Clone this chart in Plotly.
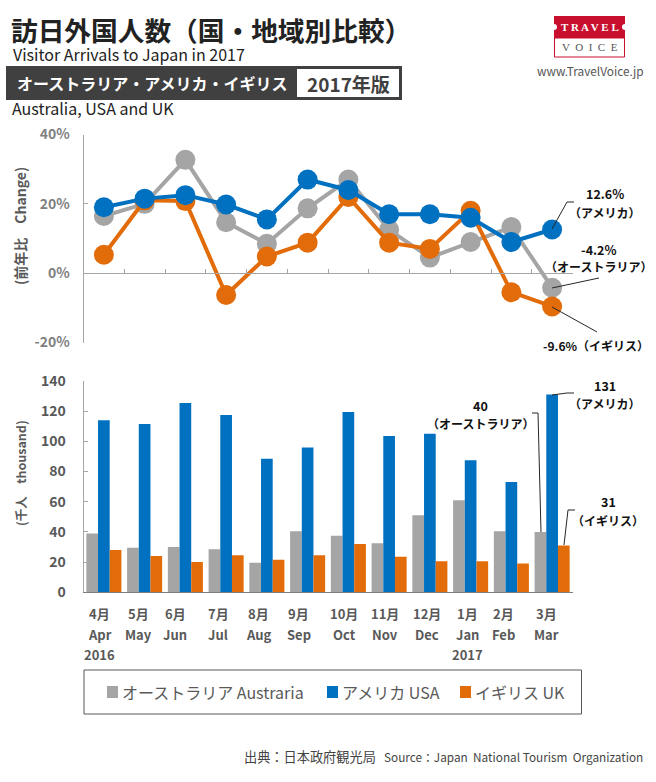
import plotly.graph_objects as go

W, H = 656, 782
months_en = ["Apr","May","Jun","Jul","Aug","Sep","Oct","Nov","Dec","Jan","Feb","Mar"]
months_ja = ["4月","5月","6月","7月","8月","9月","10月","11月","12月","1月","2月","3月"]
years = ["2016","","","","","","","","","2017","",""]
label_shift = [-4,-6,-10,-8,-8,-9,-4,-4,-3,-3,-8,-6]

chg_aus = [16.5,20,32.7,14.7,8.5,18.7,27,12.5,4.5,9,13.3,-4.2]
chg_usa = [19,21.5,22.5,19.8,15.5,27,24,17,17,16,9,12.6]
chg_uk  = [5.3,21,20.8,-6.3,4.8,8.8,22,8.8,7,18,-5.5,-9.6]

num_aus = [39,29.5,30,28.5,19.5,40.5,37.5,32.5,51,61,40.5,40]
num_usa = [114,111.5,125.5,117.5,88.5,96,119.5,103.5,105,87.5,73,131]
num_uk  = [28,24,20,24.5,21.5,24.5,32,23.5,20.5,20.5,19,31]

GRAY, BLUE, ORANGE = "#a5a5a5", "#0070c0", "#e36c0a"
JP = "Noto Sans CJK JP"
def fx(p): return p / W
def fy(p): return 1 - p / H

fig = go.Figure()
series_l = [("Aus", chg_aus, GRAY), ("USA", chg_usa, BLUE), ("UK", chg_uk, ORANGE)]
for name, vals, col in [series_l[0], series_l[2], series_l[1]]:
    fig.add_trace(go.Scatter(x=months_en, y=vals, mode="lines+markers", name=name, showlegend=False,
                             line=dict(color=col, width=4), marker=dict(color=col, size=20),
                             xaxis="x", yaxis="y", cliponaxis=False))
for name, vals, col in [("オーストラリア Austraria", num_aus, GRAY), ("アメリカ USA", num_usa, BLUE), ("イギリス UK", num_uk, ORANGE)]:
    fig.add_trace(go.Bar(x=months_en, y=vals, name=name, showlegend=False, marker=dict(color=col, line_width=0), xaxis="x2", yaxis="y2"))

shapes, ann = [], []
def text(x, y, s, size=12, color="#222222", bold=False, anchor="center", family=JP):
    if bold: s = "<b>%s</b>" % s
    ann.append(dict(text=s, x=fx(x), y=fy(y), xref="paper", yref="paper", xanchor=anchor, yanchor="middle",
                    showarrow=False, font=dict(size=size, color=color, family=family)))
def path(points, color="#262626", width=1):
    d = "M" + " L".join("%g,%g" % (fx(a), fy(b)) for a, b in points)
    shapes.append(dict(type="path", path=d, xref="paper", yref="paper", line=dict(color=color, width=width)))
def rect(x0, y0, x1, y1, fill=None, line=None, lw=1, layer="above"):
    shapes.append(dict(type="rect", xref="paper", yref="paper", x0=fx(x0), x1=fx(x1), y0=fy(y0), y1=fy(y1),
                       fillcolor=fill or "rgba(0,0,0,0)", line=dict(color=line or "rgba(0,0,0,0)", width=lw if line else 0), layer=layer))

# Header
text(9, 30, "訪日外国人数（国・地域別比較）", 26.7, "#222222", True, "left")
text(11, 54, "Visitor Arrivals to Japan in 2017", 16, "#222222", False, "left")
rect(6, 66, 402, 100, fill="#404040")
rect(297, 69, 399, 97, fill="#ffffff")
text(15, 83, "オーストラリア・アメリカ・イギリス", 16, "#ffffff", True, "left")
text(348, 83, "2017年版", 19, "#404040", True)
text(10, 108, "Australia, USA and UK", 16, "#222222", False, "left")

# Logo
rect(554, 16, 625, 38, fill="#c8102e")
rect(554.5, 38, 624.5, 57, fill="#ffffff", line="#c8102e", lw=1)
for cx in (554, 625):
    shapes.append(dict(type="circle", xref="paper", yref="paper", x0=fx(cx-3), x1=fx(cx+3), y0=fy(30), y1=fy(24),
                       fillcolor="#ffffff", line_width=0))
text(589.5, 27, "T R A V E L", 11, "#ffffff", True, family="Liberation Serif")
text(589.5, 47, "V  O  I  C  E", 11, "#555555", False, family="Liberation Serif")
text(590, 71, "www.TravelVoice.jp", 11.8, "#555555", False)

# Axis titles
for s, yc, sz in (("(前年比　Change)", 226, 14), ("(千人　thousand)", 473, 12.5)):
    ann.append(dict(text="<b>%s</b>" % s, x=fx(20), y=fy(yc), xref="paper", yref="paper", textangle=-90, showarrow=False,
                    xanchor="center", yanchor="middle", font=dict(size=sz, color="#595959", family=JP)))

# Callouts, top
text(605, 194, "12.6%", 12.5, "#111111", True)
text(604, 213, "（アメリカ）", 12, "#111111", True)
text(598, 249, "-4.2%", 12.5, "#111111", True)
text(598, 267, "（オーストラリア）", 12, "#111111", True)
text(596, 345, "-9.6%（イギリス）", 12, "#111111", True)
path([(552, 229), (567, 202), (574, 202)])
path([(552, 288), (599, 278)])
path([(552, 307), (597, 332)])
# Callouts, bottom
text(605, 385, "131", 12.5, "#111111", True)
text(604, 403, "（アメリカ）", 12, "#111111", True)
text(480, 405, "40", 12.5, "#111111", True)
text(480, 423, "（オーストラリア）", 12, "#111111", True)
text(608, 502, "31", 12.5, "#111111", True)
text(608, 520, "（イギリス）", 12, "#111111", True)
path([(552, 395), (567, 393), (574, 393)])
path([(541, 532), (538, 413), (532, 413)])
path([(564, 545), (568, 510), (575, 510)])

# Month labels anchored on the category axis
for m, j, yr, dx in zip(months_en, months_ja, years, label_shift):
    for s, yy in ((j, 613), (m, 634), (yr, 654)):
        if s:
            ann.append(dict(text="<b>%s</b>" % s, x=m, xref="x2", y=fy(yy), yref="paper", xshift=dx, showarrow=False,
                            xanchor="center", yanchor="middle", font=dict(size=13, color="#595959", family=JP)))

# Legend box, keys, source
rect(84, 670, 581.5, 714, line="#595959", lw=1)
for x0, col, s in ((107, GRAY, "オーストラリア Austraria"), (327, BLUE, "アメリカ USA"), (460, ORANGE, "イギリス UK")):
    rect(x0, 686, x0 + 11, 698, fill=col)
    text(x0 + 13, 692, s, 16, "#595959", False, "left")
text(242, 756, "出典：日本政府観光局", 13.2, "#444444", False, "left")
text(645, 756, "Source：Japan  National Tourism  Organization", 11.8, "#444444", False, "right")

axis_gray = dict(ticks="inside", ticklen=4, tickwidth=1, tickcolor="#a6a6a6", showline=True, linecolor="#a6a6a6", linewidth=1,
                 showgrid=False, zeroline=False, automargin=False)
fig.update_layout(
    width=W, height=H, margin=dict(l=0, r=0, t=0, b=0, autoexpand=False), paper_bgcolor="#ffffff", plot_bgcolor="#ffffff",
    font=dict(family=JP), barmode="group", bargap=0.14, bargroupgap=0, showlegend=False,
    shapes=shapes, annotations=ann,
    xaxis=dict(domain=[fx(83.5), fx(572.5)], anchor="free", position=fy(273), range=[-0.5, 11.5], categoryorder="array", categoryarray=months_en,
               showticklabels=False, tickson="boundaries", **axis_gray),
    yaxis=dict(domain=[fy(342.5), fy(134.5)], range=[-20, 40], tickvals=[-20, 0, 20, 40], ticktext=["-20%", "0%", "20%", "40%"],
               tickfont=dict(size=14, color="#7f7f7f", family=JP, weight="bold"), anchor="x", ticklabelstandoff=10, **axis_gray),
    xaxis2=dict(domain=[fx(83.5), fx(572.5)], anchor="y2", range=[-0.5, 11.5], categoryorder="array", categoryarray=months_en,
                showticklabels=False, ticks="", showline=True, linecolor="#7f7f7f", linewidth=1, showgrid=False, zeroline=False, automargin=False),
    yaxis2=dict(domain=[fy(592.3), fy(381)], anchor="x2", range=[0, 140], dtick=20,
                tickfont=dict(size=14, color="#595959", family=JP, weight="bold"), ticklabelstandoff=14, **axis_gray),
)
fig.write_html("out.html", config=dict(displayModeBar=False),
               post_script="document.body.style.margin='0';document.documentElement.style.overflow='hidden';")
